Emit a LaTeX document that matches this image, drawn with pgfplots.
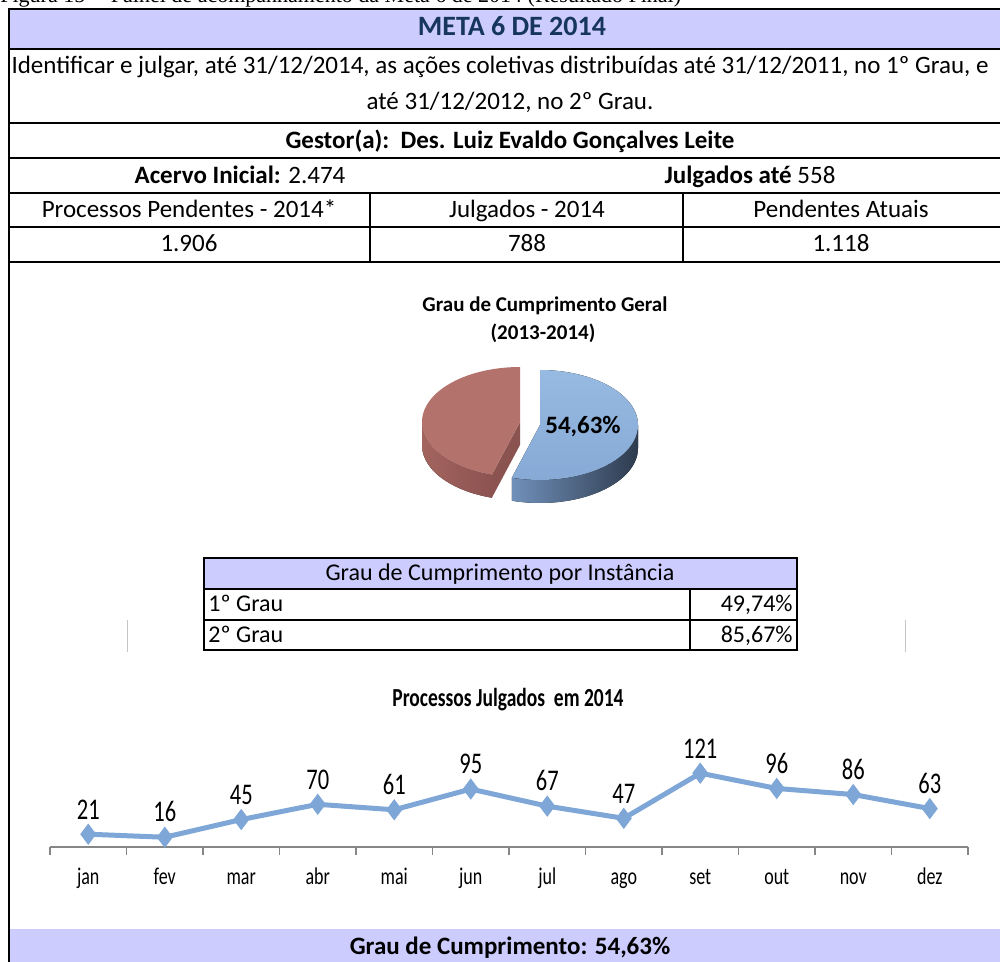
\documentclass[border=0pt]{standalone}
\usepackage{fontspec}
\setmainfont{Carlito}
\newfontfamily\capfont{Liberation Serif}
\newfontfamily\chartfont[FakeStretch=0.75]{Carlito}
\usepackage{pgfplots}
\pgfplotsset{compat=1.18}
\definecolor{lav}{HTML}{CCCCFF}
\definecolor{titleblue}{HTML}{17365D}
\definecolor{linec}{HTML}{7EA6D6}
\definecolor{axgray}{HTML}{868686}
\definecolor{btop1}{HTML}{97BAE2}
\definecolor{btop2}{HTML}{86AAD5}
\definecolor{bside1}{HTML}{7090BA}
\definecolor{bside2}{HTML}{2E3B4E}
\definecolor{rtop}{HTML}{B4726D}
\definecolor{rside1}{HTML}{A3645F}
\definecolor{rside2}{HTML}{8C5350}
\definecolor{rface}{HTML}{8A5350}
\pgfplotstableread{
x y
1 21
2 16
3 45
4 70
5 61
6 95
7 67
8 47
9 121
10 96
11 86
12 63
}\julgados
\newcommand\fs[1]{\fontsize{#1}{#1}\selectfont}
\begin{document}
\begin{tikzpicture}
\begin{scope}[x=0.5pt,y=-0.5pt, every node/.style={text height=1.4ex, text depth=0ex}]
\useasboundingbox (0,0) rectangle (1000,962);
\coordinate (O) at (50,847);
% caption (cut at top)
\node[anchor=base west, inner sep=0, font=\capfont\fs{11}] at (0,3) {Figura 15 -- Painel de acompanhamento da Meta 6 de 2014 (Resultado Final)};
% fills
\fill[lav] (9,9) rectangle (1010,49);
\fill[lav] (9,929) rectangle (1010,970);
% frame
\draw[line width=1.2pt] (9,970) -- (9,9) -- (1010,9);
\foreach \yy in {49,123,158,193,227,262} \draw[line width=1pt] (9,\yy) -- (1010,\yy);
\draw[line width=1pt] (370,193) -- (370,262);
\draw[line width=1pt] (683,193) -- (683,262);
% header texts
\node[font=\bfseries\fs{14}, text=titleblue] at (512,29) {META 6 DE 2014};
\node[font=\fs{12.5}] at (500,67) {Identificar e julgar, até 31/12/2014, as ações coletivas distribuídas até 31/12/2011, no 1º Grau, e};
\node[font=\fs{12.5}] at (510,103) {até 31/12/2012, no 2º Grau.};
\node[font=\fs{12.5}] at (510,142) {\textbf{Gestor(a):\ \ Des. Luiz Evaldo Gonçalves Leite}};
\node[font=\fs{12.5}] at (240,177) {\textbf{Acervo Inicial:} 2.474};
\node[font=\fs{12.5}] at (750,177) {\textbf{Julgados até} 558};
\node[font=\fs{12.5}] at (189,211) {Processos Pendentes - 2014*};
\node[font=\fs{12.5}] at (527,211) {Julgados - 2014};
\node[font=\fs{12.5}] at (841,211) {Pendentes Atuais};
\node[font=\fs{12.5}] at (189,245) {1.906};
\node[font=\fs{12.5}] at (527,245) {788};
\node[font=\fs{12.5}] at (841,245) {1.118};
% pie title
\node[font=\bfseries\fs{10.5}] at (545,305) {Grau de Cumprimento Geral};
\node[font=\bfseries\fs{10.5}] at (543,333) {(2013-2014)};
% pie
\pgfmathsetmacro\pieval{54.63}
\pgfmathsetmacro\ea{\pieval*3.6-90}
\pgfmathsetmacro\px{520+98*cos(\ea)}
\pgfmathsetmacro\py{422+55*sin(\ea)}
\fill[rface] (520,422) -- (\px,\py) -- (\px,{\py+23}) -- (520,445) -- cycle;
\fill[left color=rside1, right color=rside2] plot[domain=\ea:180,samples=50] ({520+98*cos(\x)},{422+55*sin(\x)}) -- plot[domain=180:\ea,samples=50] ({520+98*cos(\x)},{445+55*sin(\x)}) -- cycle;
\fill[rtop] (520,422) -- plot[domain=\ea:270,samples=60] ({520+98*cos(\x)},{422+55*sin(\x)}) -- cycle;
\fill[left color=bside1, right color=bside2] plot[domain=0:\ea,samples=50] ({540+98*cos(\x)},{425+55*sin(\x)}) -- plot[domain=\ea:0,samples=50] ({540+98*cos(\x)},{448+55*sin(\x)}) -- cycle;
\fill[top color=btop1, bottom color=btop2] (540,425) -- plot[domain=-90:\ea,samples=60] ({540+98*cos(\x)},{425+55*sin(\x)}) -- cycle;
\node[font=\bfseries\fs{12.5}] at (583,427) {54,63\%};
% table
\fill[lav] (204,558) rectangle (797,589);
\draw[line width=1pt] (204,558) rectangle (797,650);
\draw[line width=1pt] (204,589) -- (797,589);
\draw[line width=1pt] (204,620) -- (797,620);
\draw[line width=1pt] (690,589) -- (690,650);
\node[font=\fs{12}] at (500,574) {Grau de Cumprimento por Instância};
\node[font=\fs{12}, anchor=west, inner sep=1pt] at (206,605) {1º Grau};
\node[font=\fs{12}, anchor=west, inner sep=1pt] at (206,636) {2º Grau};
\node[font=\fs{12}, anchor=east, inner sep=1pt] at (795,605) {49,74\%};
\node[font=\fs{12}, anchor=east, inner sep=1pt] at (795,636) {85,67\%};
\draw[gray!45] (127,620) -- (127,652);
\draw[gray!45] (905,620) -- (905,652);
% line chart title
\node[font=\chartfont\bfseries\fs{13}] at (508,700) {Processos Julgados\ \ em 2014};
% bottom text
\node[font=\bfseries\fs{12.5}] at (510,948) {Grau de Cumprimento: 54,63\%};
\end{scope}
% line chart
\begin{axis}[at={(O)}, anchor=south west,
  width=459pt, height=61pt, scale only axis,
  xmin=0.5, xmax=12.5, ymin=0, ymax=200,
  axis x line*=bottom, axis y line=none,
  xtick={1,...,12},
  xticklabels={jan,fev,mar,abr,mai,jun,jul,ago,set,out,nov,dez},
  minor xtick={0.5,1.5,...,12.5},
  major tick length=0pt, minor tick length=4pt, tick align=outside,
  x axis line style={draw=axgray, line width=0.9pt},
  minor tick style={draw=axgray, line width=0.6pt},
  xticklabel style={font=\chartfont\fs{12}, text height=1.5ex, text depth=0.45ex, yshift=-8pt},
  /pgf/number format/assume math mode=true,
  clip=false,
  nodes near coords,
  every node near coord/.append style={font=\chartfont\fs{15}, text=black, yshift=4pt},
]
\addplot[color=linec, line width=2.5pt, mark=diamond*, mark size=5pt,
  mark options={fill=linec, draw=linec, line width=0.4pt}] table[x=x,y=y] {\julgados};
\end{axis}
\end{tikzpicture}
\end{document}
